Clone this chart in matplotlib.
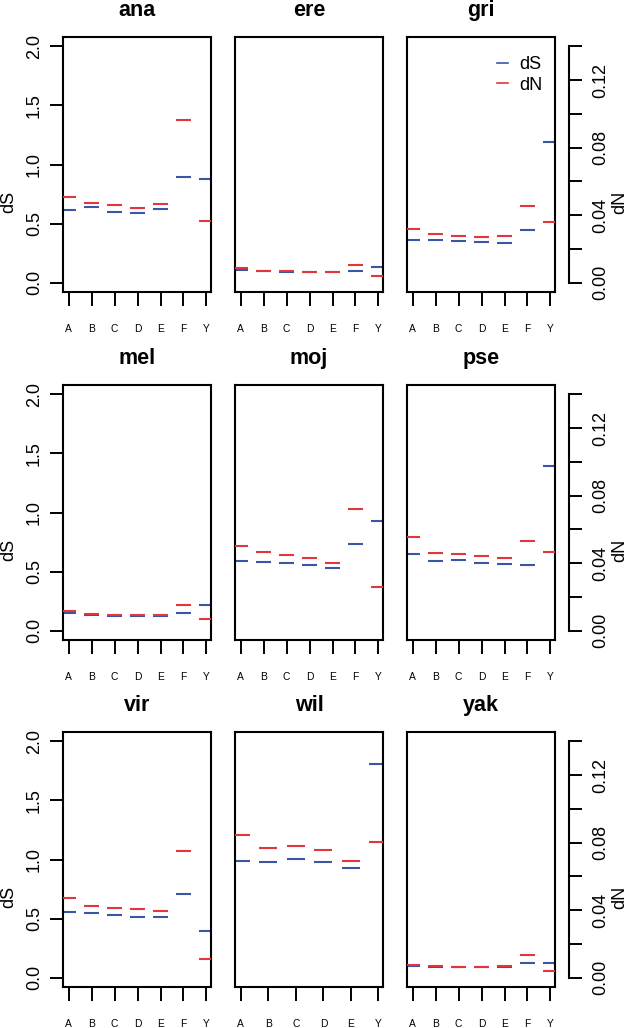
import matplotlib
matplotlib.use('Agg')
import matplotlib.pyplot as plt
from matplotlib.lines import Line2D

plt.rcParams['font.family'] = ['Liberation Sans', 'DejaVu Sans']

W, H = 630, 1028
BLUE = '#3a56a5'
RED = '#e4353d'

species = ['ana', 'ere', 'gri', 'mel', 'moj', 'pse', 'vir', 'wil', 'yak']
cats_full = ['A', 'B', 'C', 'D', 'E', 'F', 'Y']
cats_wil = ['A', 'B', 'C', 'D', 'E', 'Y']

# dS per species (blue, left axis)
ds_ana = [0.613, 0.641, 0.596, 0.590, 0.624, 0.894, 0.877]
ds_ere = [0.108, 0.098, 0.090, 0.090, 0.088, 0.100, 0.130]
ds_gri = [0.357, 0.363, 0.352, 0.340, 0.335, 0.445, 1.189]
ds_mel = [0.146, 0.132, 0.127, 0.127, 0.121, 0.146, 0.220]
ds_moj = [0.592, 0.583, 0.569, 0.555, 0.532, 0.732, 0.927]
ds_pse = [0.645, 0.592, 0.597, 0.569, 0.563, 0.552, 1.394]
ds_vir = [0.554, 0.546, 0.532, 0.515, 0.509, 0.704, 0.393]
ds_wil = [0.990, 0.982, 1.007, 0.976, 0.925, 1.808]
ds_yak = [0.096, 0.090, 0.088, 0.086, 0.090, 0.122, 0.127]

# dN per species (red, right axis)
dn_ana = [0.0508, 0.0469, 0.0459, 0.0445, 0.0468, 0.0961, 0.0363]
dn_ere = [0.0085, 0.0071, 0.0066, 0.0064, 0.0063, 0.0105, 0.0040]
dn_gri = [0.0318, 0.0286, 0.0278, 0.0270, 0.0274, 0.0455, 0.0361]
dn_mel = [0.0118, 0.0099, 0.0095, 0.0095, 0.0092, 0.0154, 0.0071]
dn_moj = [0.0503, 0.0463, 0.0447, 0.0430, 0.0403, 0.0718, 0.0260]
dn_pse = [0.0556, 0.0458, 0.0452, 0.0442, 0.0432, 0.0531, 0.0468]
dn_vir = [0.0471, 0.0424, 0.0414, 0.0404, 0.0392, 0.0750, 0.0111]
dn_wil = [0.0848, 0.0770, 0.0780, 0.0758, 0.0693, 0.0806]
dn_yak = [0.0075, 0.0069, 0.0065, 0.0063, 0.0067, 0.0134, 0.0038]

ds_all = [ds_ana, ds_ere, ds_gri, ds_mel, ds_moj, ds_pse, ds_vir, ds_wil, ds_yak]
dn_all = [dn_ana, dn_ere, dn_gri, dn_mel, dn_moj, dn_pse, dn_vir, dn_wil, dn_yak]

ds_ticks = [0.0, 0.5, 1.0, 1.5, 2.0]
dn_ticks = [0.00, 0.02, 0.04, 0.06, 0.08, 0.10, 0.12, 0.14]
dn_labels = ['0.00', '', '0.04', '', '0.08', '', '0.12', '']

cols_x = [63, 235, 407]
rows_top = [37, 385, 732]
BW, BH = 148, 255
RATIO = 0.07
PX = 0.72  # points per pixel at dpi 100

fig = plt.figure(figsize=(W / 100, H / 100), dpi=100)

for i, sp in enumerate(species):
    r, c = i // 3, i % 3
    cats = cats_wil if sp == 'wil' else cats_full
    n = len(cats)
    xs = list(range(1, n + 1))
    x0, y0 = cols_x[c], rows_top[r]
    ax = fig.add_axes([x0 / W, 1 - (y0 + BH) / H, BW / W, BH / H])
    ax2 = ax.twinx()
    ax.set_ylim(-0.08, 2.08)
    ax2.set_ylim(-0.08 * RATIO, 2.08 * RATIO)
    span = n - 1
    ax.set_xlim(1 - 0.25 * span / 6, n + 0.2 * span / 6)

    ax.hlines(ds_all[i], [x - 0.33 for x in xs], [x + 0.33 for x in xs],
              color=BLUE, lw=1.5)
    ax2.hlines(dn_all[i], [x - 0.33 for x in xs], [x + 0.33 for x in xs],
               color=RED, lw=1.5)

    for s in ax.spines.values():
        s.set_linewidth(1.5)
    for s in ax2.spines.values():
        s.set_visible(False)

    ax.set_xticks(xs)
    ax.set_xticklabels(cats, fontsize=7.4)
    ax.tick_params(axis='x', length=10, width=1.4, pad=13)

    if c == 0:
        ax.set_yticks(ds_ticks)
        ax.set_yticklabels(['%.1f' % t for t in ds_ticks], rotation=90,
                           va='center', fontsize=13)
        ax.tick_params(axis='y', length=9.4, width=1.4, pad=5)
        fig.text(9 / W, 1 - (y0 + 165) / H, 'dS', rotation=90, ha='center',
                 va='center', fontsize=13)
    else:
        ax.set_yticks([])

    if c == 2:
        sp_r = ax2.spines['right']
        sp_r.set_visible(True)
        sp_r.set_position(('outward', 14 * PX))
        sp_r.set_bounds(0, 0.14)
        sp_r.set_linewidth(1.5)
        ax2.set_yticks(dn_ticks)
        ax2.set_yticklabels(dn_labels, rotation=90, va='center', fontsize=13)
        ax2.tick_params(axis='y', length=9.4, width=1.4, pad=7.5)
        fig.text(620 / W, 1 - (y0 + 165) / H, 'dN', rotation=90, ha='center',
                 va='center', fontsize=13)
    else:
        ax2.set_yticks([])

    fig.text((x0 + BW / 2) / W, 1 - (y0 - 21) / H, sp, ha='center',
             va='baseline', fontsize=15.5, fontweight='bold')

    if sp == 'gri':
        handles = [Line2D([], [], color=BLUE, lw=1.2),
                   Line2D([], [], color=RED, lw=1.2)]
        ax.legend(handles, ['dS', 'dN'], loc='upper right', frameon=False,
                  fontsize=13, handlelength=0.65, handletextpad=0.6,
                  labelspacing=0.2, borderaxespad=0.3,
                  bbox_to_anchor=(1.0, 0.975))

fig.savefig('out.png', dpi=100)
